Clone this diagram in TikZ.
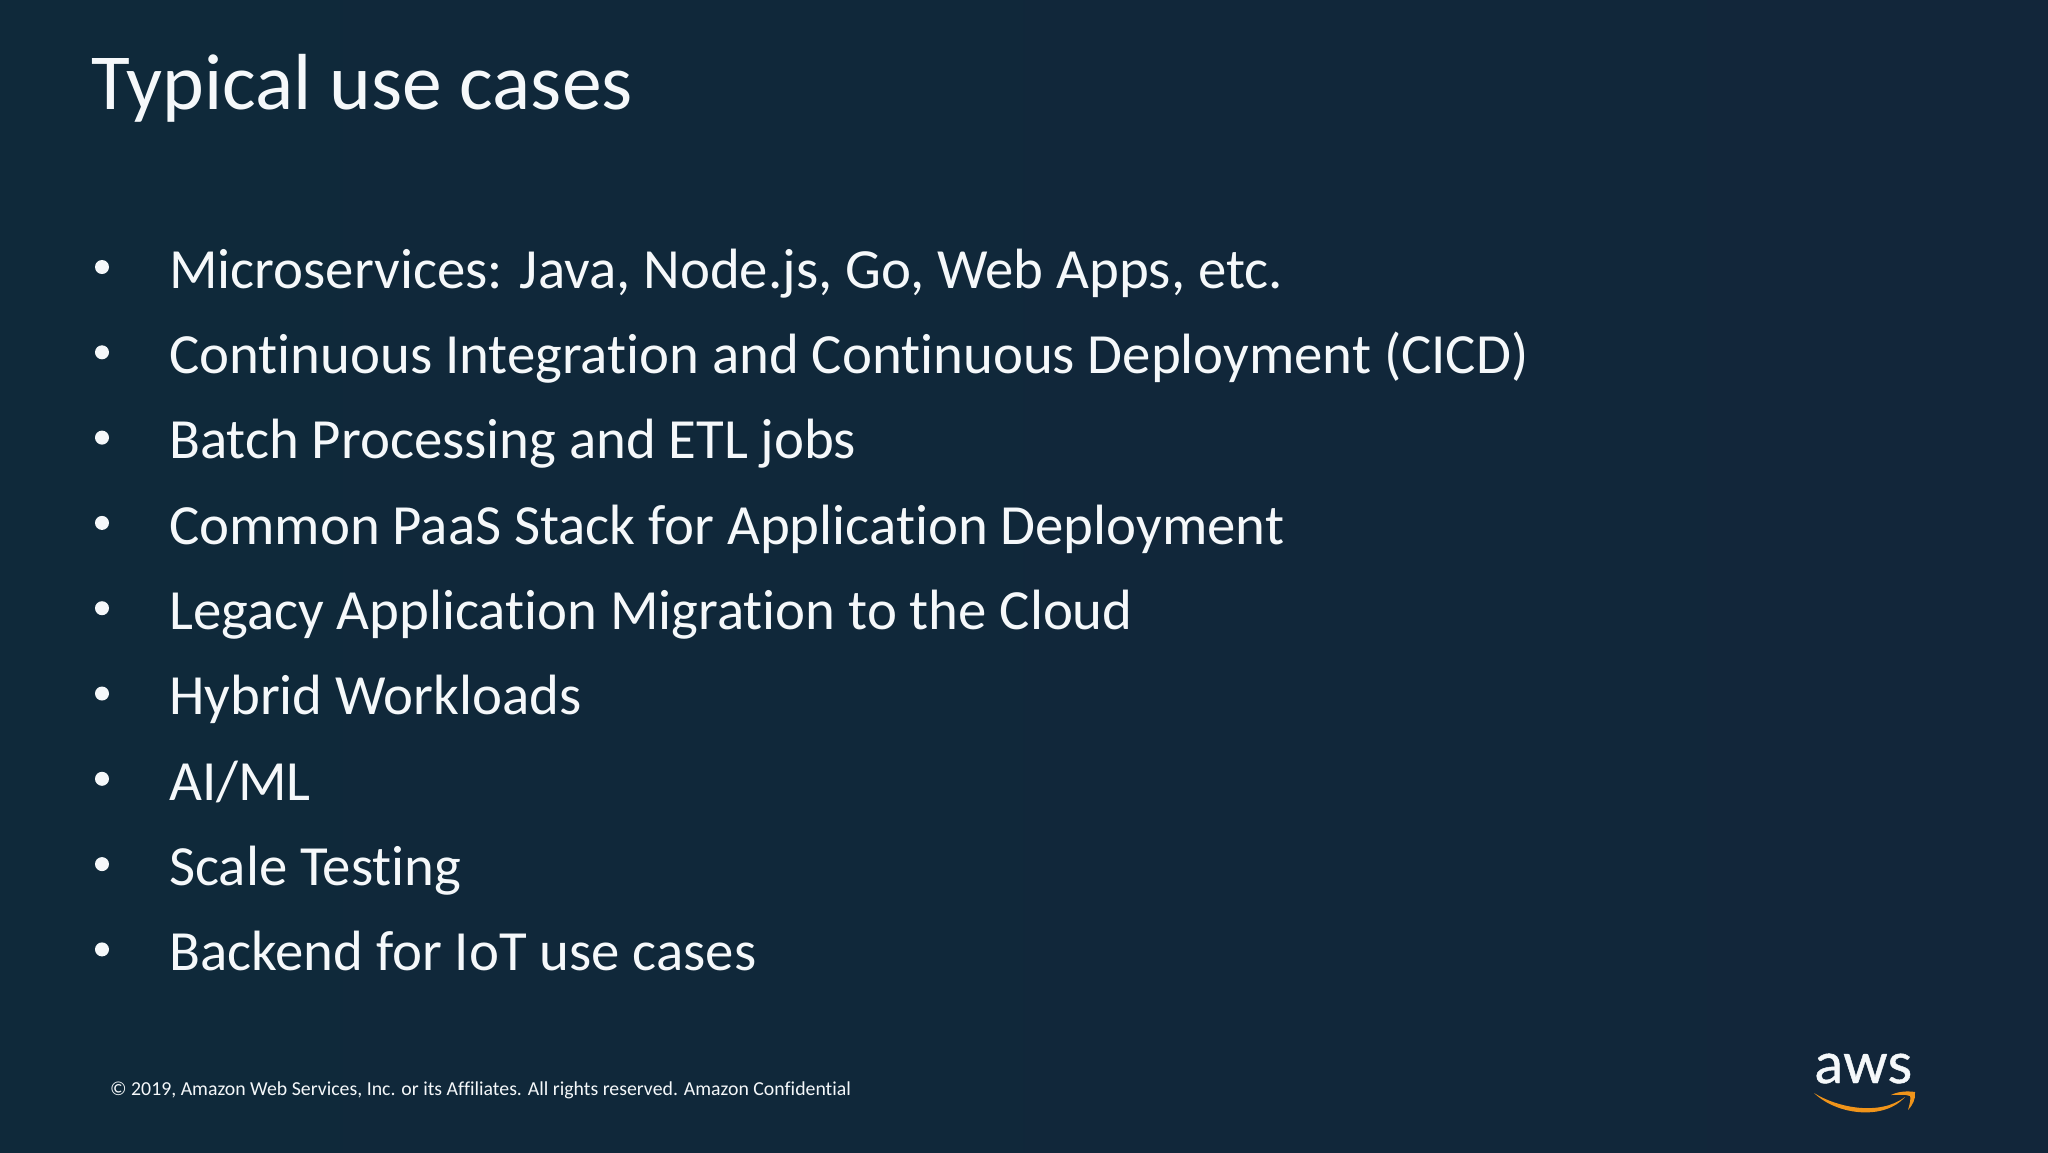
\documentclass[tikz,border=0pt]{standalone}
\usepackage{fontspec}
\setmainfont[Ligatures=NoCommon]{Carlito}
\newfontfamily\logofont[FakeBold=0.8]{Lato}
\definecolor{bgleft}{HTML}{0F293A}
\definecolor{bgright}{HTML}{12263A}
\definecolor{slidetext}{HTML}{F5F8FA}
\definecolor{smile}{HTML}{F0941A}
\tikzset{
    slidetitle/.style={anchor=base west, inner sep=0pt, text=slidetext, font=\fontsize{79.5}{90}\selectfont},
    item/.style={anchor=base west, inner sep=0pt, text=slidetext, font=\fontsize{56.8}{66}\selectfont},
    dot/.style={circle, fill=slidetext, inner sep=0pt, minimum size=14pt},
    footer/.style={anchor=base west, inner sep=0pt, text=slidetext, font=\fontsize{19.8}{24}\selectfont},
}
\begin{document}
\begin{tikzpicture}[x=1pt, y=-1pt]
            % Background
            \useasboundingbox (0,0) rectangle (2048,1152);
            \shade [left color=bgleft, right color=bgright] (0,0) rectangle (2048,1152);

            % Title
            \node [slidetitle] (title) at (91,109) {Typical use cases};

            % Bullets
            \foreach \name/\row/\label in {micro/0/{Microservices: Java, Node.js, Go, Web Apps, etc.},
                cicd/1/{Continuous Integration and Continuous Deployment (CICD)},
                batch/2/{Batch Processing and ETL jobs},
                paas/3/{Common PaaS Stack for Application Deployment},
                legacy/4/{Legacy Application Migration to the Cloud},
                hybrid/5/{Hybrid Workloads},
                aiml/6/{AI/ML},
                scale/7/{Scale Testing},
                iot/8/{Backend for IoT use cases}} {
                \node [item] (\name) at (169,288.3+85.3*\row) {\label};
                \node [dot] (\name dot) at (102,267+85.3*\row) {};
            }

            % Footer
            \node [footer] (copyright) at (110,1095) {© 2019, Amazon Web Services, Inc. or its Affiliates. All rights reserved. Amazon Confidential};

            % Logo
            \node [anchor=base, inner sep=0pt, text=slidetext, font=\logofont\fontsize{57}{64}\selectfont] (aws) at (1863.5,1083) {aws};
            \fill [smile] (1814,1093) .. controls (1838,1108) and (1880,1116) .. (1905,1097)
                .. controls (1885,1120) and (1838,1116) .. (1814,1093) -- cycle;
            \fill [smile] (1891,1095) .. controls (1899,1091) and (1908,1091) .. (1915,1092)
                .. controls (1916,1099) and (1912,1106) .. (1908,1110)
                .. controls (1910,1103) and (1911,1098) .. (1910,1096)
                .. controls (1905,1094) and (1898,1095) .. (1891,1095) -- cycle;
        \end{tikzpicture}
\end{document}
